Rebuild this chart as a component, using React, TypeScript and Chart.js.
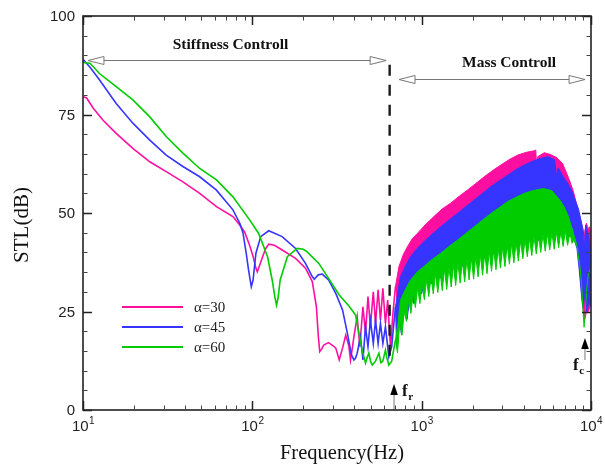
import React, { useEffect, useRef } from "react";
import { Chart, registerables } from "chart.js";

Chart.register(...registerables);

// ---------- axis ticks ----------
const xMajorTicks = [10, 100, 1000, 10000];
const xTickExponents = ["1", "2", "3", "4"];
const xMinorTicks = [20, 30, 40, 50, 60, 70, 80, 90, 200, 300, 400, 500, 600, 700, 800, 900, 2000, 3000, 4000, 5000, 6000, 7000, 8000, 9000];
const yMajorTicks = [0, 25, 50, 75, 100];
const yTickLabels = ["0", "25", "50", "75", "100"];
const yMinorTicks = [5, 10, 15, 20, 30, 35, 40, 45, 55, 60, 65, 70, 80, 85, 90, 95];

// ---------- series labels ----------
const seriesLabels = ["\u03b1=30", "\u03b1=45", "\u03b1=60"];

// ---------- alpha = 30 (pink) ----------
const pinkLowF = [10, 10.5, 11.5, 13.1, 15.7, 19.7, 24.8, 31, 38.9, 48.9, 61.4, 76.8, 84, 90, 96, 101, 105, 107, 110, 115, 120, 125, 135, 150, 180, 206, 226, 239, 245, 250, 257, 264, 282, 300, 311, 326, 341, 356, 365, 372, 380, 389, 398, 416, 431, 450, 466, 482, 498, 518, 534, 553, 571, 590, 611, 630, 645, 655, 675, 700];
const pinkLowV = [79.5, 79.2, 76.6, 73.6, 70.2, 66.4, 63.0, 60.5, 57.9, 55.0, 51.6, 49.1, 47, 45.2, 42, 39, 36, 35.1, 36.5, 38.9, 41, 42.1, 41.8, 40.6, 38.5, 36.0, 32.6, 26.2, 19, 14.8, 15.5, 16.5, 17.1, 16.3, 15.7, 12.7, 15.7, 19, 17.5, 16.1, 12.7, 15.5, 18.6, 23.7, 16.1, 26.2, 19.5, 28.8, 21.1, 30, 22, 30.5, 22.8, 30.9, 22, 27.9, 20, 16.1, 24, 31.3];
const pinkTopF = [700, 734, 780, 823, 880, 943, 1050, 1181, 1320, 1483, 1660, 1861, 2090, 2340, 2630, 2940, 3300, 3690, 4150, 4630, 4720, 4760, 4850, 5300, 5800, 6300, 6800, 7360, 7870, 8240, 8630, 8900, 9050, 9200, 9400, 9600, 9800, 10000];
const pinkTopV = [31.3, 36.4, 39.5, 41.4, 43.5, 44.8, 47, 49.1, 51, 52.5, 54.2, 55.8, 57.5, 59.2, 60.8, 62.2, 63.6, 64.7, 65.4, 65.8, 66, 62.5, 64.3, 65.3, 64.8, 64, 62.5, 59, 55.5, 52, 47.3, 43, 40.5, 45.5, 47.4, 46, 46.5, 45];
const pinkBotF = [700, 734, 800, 900, 1000, 1300, 1700, 2200, 3000, 4000, 5000, 6000, 7000, 8000, 8540, 8800, 9000, 9130, 9300, 9500, 9700, 10000];
const pinkBotV = [31.3, 24, 26, 30, 33, 37, 40, 43, 46, 49, 51, 52, 50, 46, 40, 30, 25, 22.5, 24, 27, 25, 28];

// ---------- alpha = 45 (blue) ----------
const blueLowF = [10, 11, 12.5, 15.7, 19.7, 24.8, 31, 38.9, 48.9, 61.4, 76.8, 84.3, 88, 92, 95, 98.6, 101, 105, 112, 125, 150, 180, 206, 225, 232, 245, 259, 282, 311, 341, 364, 385, 398, 407, 416, 435, 450, 466, 482, 498, 518, 534, 553, 571, 590, 611, 640, 665, 700];
const blueLowV = [89, 87, 83.8, 77.8, 72.8, 68.5, 64.7, 61.8, 59.2, 55.8, 50.8, 47.4, 45, 39.8, 35.5, 31.3, 33, 39.8, 44, 45.5, 44, 41, 37.2, 34, 33.2, 34.3, 34.5, 33, 29.6, 25.4, 19.5, 14, 12.7, 13.2, 14.4, 18.6, 12.7, 21.1, 16.1, 22.8, 16.9, 22.8, 16.9, 22, 16.9, 21.1, 13.5, 16, 26.2];
const blueTopF = [700, 750, 800, 859, 940, 1030, 1150, 1295, 1450, 1626, 1820, 2041, 2290, 2565, 2880, 3220, 3600, 4045, 4550, 5080, 5600, 6100, 6250, 6400, 6900, 7300, 7710, 8440, 9010, 9150, 9300, 9500, 9700, 10000];
const blueTopV = [26.2, 33.8, 36.5, 38.9, 41, 42.7, 44.6, 46.5, 48.2, 49.9, 51.6, 53.3, 55, 56.7, 58.2, 59.6, 61, 62.2, 63.2, 63.9, 64.3, 63.5, 59.5, 61.5, 59, 57.5, 55.5, 51, 45.5, 41, 47, 45.5, 44, 40];
const blueBotF = [700, 712, 735, 760, 790, 820, 860, 900, 950, 1000, 1070, 1140, 1220, 1300, 1400, 1500, 1620, 1740, 1880, 2020, 2180, 2350, 2530, 2720, 2930, 3150, 3400, 3650, 3930, 4230, 4550, 4900, 5250, 5650, 6050, 6500, 6950, 7450, 7800, 8000, 8260, 8500, 8750, 8930, 9100, 9300, 9500, 9700, 10000];
const blueBotV = [26.2, 16, 24, 19, 27, 23, 30, 27, 32, 29.5, 36, 32, 37.5, 33.5, 39, 35, 40, 36.5, 41, 37.5, 42, 38.5, 43, 39.5, 44, 40.5, 45, 41.5, 46, 42.2, 46.5, 43, 47, 43.5, 47.5, 44, 47.5, 44, 46.5, 43, 41, 36, 30, 26, 30, 26, 24.6, 28, 26];

// ---------- alpha = 60 (green) ----------
const greenLowF = [10, 11, 12.5, 15.7, 19.7, 24.8, 31, 38.9, 48.9, 61.4, 76.8, 96.6, 109, 123, 131, 136, 139, 142, 146, 161, 184, 200, 210, 247, 282, 326, 372, 407, 426, 445, 466, 478, 488, 500, 511, 534, 559, 575, 590, 611, 625, 640, 665, 700];
const greenLowV = [88.2, 88, 85.4, 82.1, 78.7, 74.4, 69.4, 65.2, 61.3, 58.4, 54.1, 48.2, 44.8, 38.9, 33, 28.5, 26.6, 28.5, 33, 38.9, 41, 40.8, 40.2, 37.2, 33.4, 29.2, 26.4, 24.1, 19.5, 15.2, 11.9, 13.5, 14.4, 12.2, 11.4, 12.4, 14.4, 12, 12.4, 15.2, 13, 11.4, 12.4, 17.8];
const greenTopF = [700, 720, 750, 800, 859, 940, 1030, 1150, 1295, 1450, 1626, 1820, 2041, 2290, 2565, 2880, 3220, 3600, 4045, 4550, 5240, 5860, 6600, 7000, 7400, 7870, 8050, 8240, 8400, 8600, 8800, 8950, 9100, 9250, 9450, 9650, 10000];
const greenTopV = [17.8, 21, 27.9, 30.5, 33, 35, 36.4, 38.2, 39.8, 41.5, 43.1, 44.8, 46.5, 48.2, 49.9, 51.4, 52.9, 54, 55, 55.7, 56.2, 55.7, 53.1, 51.3, 48.8, 44.8, 43.5, 41.9, 39.5, 36.5, 32, 26, 21, 25, 31, 34.7, 36];
const greenBotF = [700, 720, 742, 765, 789, 813, 838, 864, 891, 918, 947, 976, 1006, 1037, 1069, 1102, 1136, 1171, 1207, 1245, 1284, 1323, 1364, 1406, 1450, 1494, 1540, 1588, 1637, 1688, 1740, 1794, 1850, 1906, 1965, 2026, 2088, 2153, 2220, 2288, 2359, 2432, 2507, 2585, 2665, 2747, 2832, 2919, 3009, 3102, 3198, 3297, 3399, 3504, 3612, 3724, 3839, 3958, 4080, 4206, 4336, 4470, 4608, 4751, 4898, 5049, 5205, 5366, 5532, 5703, 5879, 6061, 6248, 6441, 6640, 6845, 7057, 7275, 7500, 7731, 7900, 8240];
const greenBotV = [17.8, 14.5, 22, 19, 25, 22.5, 28, 24.5, 29.5, 26, 31, 27, 32, 28, 33, 28.8, 33.8, 29.5, 34.5, 29.8, 35, 30.3, 35.8, 30.6, 36.2, 31.2, 36.8, 31.6, 37.3, 32.2, 37.8, 32.5, 38.2, 33, 38.6, 33.2, 39, 33.8, 39.4, 34.2, 39.8, 34.6, 40.2, 35.2, 40.6, 35.6, 41, 36, 41.4, 36.4, 41.8, 37, 42.2, 37.4, 42.6, 37.8, 43, 38.4, 43.3, 38.9, 43.6, 39.2, 44, 39.6, 44.3, 40, 44.5, 40.3, 44.8, 40.6, 45, 40.8, 45.2, 41.2, 45.4, 41.5, 45.4, 41.8, 45, 42.3, 43, 41.9];

// ---------- annotations (data coordinates) ----------
const dashLineF = 647;
const dashLineV = [12.7, 87.6];
const stiffArrowF = [10.7, 617];
const stiffArrowV = 88.8;
const stiffTextF = 74.3;
const stiffTextV = 92.6;
const massArrowF = [735, 9225];
const massArrowV = 84.0;
const massTextF = 3280;
const massTextV = 88.1;
const frArrowF = 687;
const frArrowV = [0, 6.6];
const fcArrowF = 9216;
const fcArrowV = [12.7, 18.3];

const PINK = "#ff0fa0";
const BLUE = "#3535ff";
const GREEN = "#00cc00";
const COLORS = [PINK, BLUE, GREEN];

const SANS = "'Liberation Sans', Arial, Helvetica, sans-serif";
const SERIF = "'Liberation Serif', 'Times New Roman', Times, serif";

function pts(f: number[], v: number[]) {
  return f.map((x, i) => ({ x, y: v[i] }));
}

function line(label: string, f: number[], v: number[], color: string, order: number, width: number, fill: any = false) {
  return {
    label,
    data: pts(f, v),
    borderColor: color,
    backgroundColor: color,
    borderWidth: width,
    pointRadius: 0,
    tension: 0,
    fill,
    order,
  };
}

function hollowHead(ctx: CanvasRenderingContext2D, tx: number, ty: number, dir: number) {
  const len = 16;
  const hw = 4;
  ctx.beginPath();
  ctx.moveTo(tx, ty);
  ctx.lineTo(tx - dir * len, ty - hw);
  ctx.lineTo(tx - dir * len, ty + hw);
  ctx.closePath();
  ctx.fillStyle = "#ffffff";
  ctx.fill();
  ctx.stroke();
}

function solidArrow(ctx: CanvasRenderingContext2D, ax: number, tipY: number, bottomY: number) {
  ctx.strokeStyle = "#777";
  ctx.lineWidth = 1;
  ctx.beginPath();
  ctx.moveTo(ax, tipY + 9);
  ctx.lineTo(ax, bottomY);
  ctx.stroke();
  ctx.fillStyle = "#000";
  ctx.beginPath();
  ctx.moveTo(ax, tipY);
  ctx.lineTo(ax - 3.8, tipY + 11);
  ctx.lineTo(ax + 3.8, tipY + 11);
  ctx.closePath();
  ctx.fill();
}

function subText(ctx: CanvasRenderingContext2D, main: string, sub: string, x: number, baseY: number) {
  ctx.fillStyle = "#111";
  ctx.textAlign = "left";
  ctx.textBaseline = "alphabetic";
  ctx.font = `bold 17px ${SERIF}`;
  ctx.fillText(main, x, baseY);
  const w = ctx.measureText(main).width;
  ctx.font = `bold 11px ${SERIF}`;
  ctx.fillText(sub, x + w + 0.5, baseY + 4);
}

const decor = {
  id: "decor",
  afterDatasetsDraw(chart: any) {
    const { ctx, chartArea: a, scales } = chart;
    const x = scales.x;
    const y = scales.y;
    ctx.save();

    // dashed vertical line
    ctx.strokeStyle = "#1a1a1a";
    ctx.lineWidth = 2.4;
    ctx.setLineDash([11, 9]);
    ctx.beginPath();
    const dx = x.getPixelForValue(dashLineF);
    ctx.moveTo(dx, y.getPixelForValue(dashLineV[1]));
    ctx.lineTo(dx, y.getPixelForValue(dashLineV[0]));
    ctx.stroke();
    ctx.setLineDash([]);

    // region arrows
    ctx.strokeStyle = "#777";
    ctx.lineWidth = 1;
    const drawSpan = (fs: number[], v: number) => {
      const x1 = x.getPixelForValue(fs[0]);
      const x2 = x.getPixelForValue(fs[1]);
      const yy = Math.round(y.getPixelForValue(v)) + 0.5;
      ctx.beginPath();
      ctx.moveTo(x1 + 15, yy);
      ctx.lineTo(x2 - 15, yy);
      ctx.stroke();
      hollowHead(ctx, x1, yy, -1);
      hollowHead(ctx, x2, yy, 1);
    };
    drawSpan(stiffArrowF, stiffArrowV);
    drawSpan(massArrowF, massArrowV);

    ctx.fillStyle = "#111";
    ctx.font = `bold 15.5px ${SERIF}`;
    ctx.textAlign = "center";
    ctx.textBaseline = "middle";
    ctx.fillText("Stiffness Controll", x.getPixelForValue(stiffTextF), y.getPixelForValue(stiffTextV));
    ctx.fillText("Mass Controll", x.getPixelForValue(massTextF), y.getPixelForValue(massTextV));

    // f_r and f_c
    const frx = x.getPixelForValue(frArrowF);
    solidArrow(ctx, frx, y.getPixelForValue(frArrowV[1]), y.getPixelForValue(frArrowV[0]));
    subText(ctx, "f", "r", frx + 8, y.getPixelForValue(frArrowV[1]) + 12);
    const fcx = x.getPixelForValue(fcArrowF);
    solidArrow(ctx, fcx, y.getPixelForValue(fcArrowV[1]), y.getPixelForValue(fcArrowV[0]));
    subText(ctx, "f", "c", fcx - 12, y.getPixelForValue(fcArrowV[1]) + 32);

    // legend
    const lx1 = a.left + 39;
    const lx2 = a.left + 100;
    const ly0 = a.top + 291;
    for (let i = 0; i < seriesLabels.length; i++) {
      const ly = ly0 + i * 20;
      ctx.strokeStyle = COLORS[i];
      ctx.lineWidth = 2;
      ctx.beginPath();
      ctx.moveTo(lx1, ly);
      ctx.lineTo(lx2, ly);
      ctx.stroke();
      ctx.fillStyle = "#222";
      ctx.font = `15px ${SERIF}`;
      ctx.textAlign = "left";
      ctx.textBaseline = "middle";
      ctx.fillText(seriesLabels[i], lx2 + 11, ly + 1);
    }

    // frame
    ctx.strokeStyle = "#222";
    ctx.lineWidth = 1.6;
    ctx.strokeRect(a.left, a.top, a.right - a.left, a.bottom - a.top);

    // ticks
    const major = 9;
    const minor = 4.5;
    ctx.lineWidth = 1.5;
    ctx.beginPath();
    for (const t of xMajorTicks) {
      const px = Math.round(x.getPixelForValue(t)) + 0.5;
      ctx.moveTo(px, a.bottom); ctx.lineTo(px, a.bottom - major);
      ctx.moveTo(px, a.top); ctx.lineTo(px, a.top + major);
    }
    for (const t of yMajorTicks) {
      const py = Math.round(y.getPixelForValue(t)) + 0.5;
      ctx.moveTo(a.left, py); ctx.lineTo(a.left + major, py);
      ctx.moveTo(a.right, py); ctx.lineTo(a.right - major, py);
    }
    ctx.stroke();
    ctx.lineWidth = 1;
    ctx.strokeStyle = "#444";
    ctx.beginPath();
    for (const t of xMinorTicks) {
      const px = Math.round(x.getPixelForValue(t)) + 0.5;
      ctx.moveTo(px, a.bottom); ctx.lineTo(px, a.bottom - minor);
      ctx.moveTo(px, a.top); ctx.lineTo(px, a.top + minor);
    }
    for (const t of yMinorTicks) {
      const py = Math.round(y.getPixelForValue(t)) + 0.5;
      ctx.moveTo(a.left, py); ctx.lineTo(a.left + minor, py);
      ctx.moveTo(a.right, py); ctx.lineTo(a.right - minor, py);
    }
    ctx.stroke();

    // y tick labels
    ctx.fillStyle = "#222";
    ctx.font = `15px ${SANS}`;
    ctx.textAlign = "right";
    ctx.textBaseline = "middle";
    yMajorTicks.forEach((t, i) => {
      ctx.fillText(yTickLabels[i], a.left - 8, y.getPixelForValue(t) + 1);
    });

    // x tick labels 10^n
    ctx.textBaseline = "alphabetic";
    ctx.textAlign = "left";
    xMajorTicks.forEach((t, i) => {
      const px = x.getPixelForValue(t);
      ctx.font = `15px ${SANS}`;
      const wb = ctx.measureText("10").width;
      ctx.font = `10px ${SANS}`;
      const we = ctx.measureText(xTickExponents[i]).width;
      const start = px - (wb + we) / 2;
      ctx.font = `15px ${SANS}`;
      ctx.fillText("10", start, a.bottom + 21);
      ctx.font = `10px ${SANS}`;
      ctx.fillText(xTickExponents[i], start + wb + 0.5, a.bottom + 13.5);
    });

    // axis titles
    ctx.fillStyle = "#111";
    ctx.font = `20.5px ${SERIF}`;
    ctx.textAlign = "center";
    ctx.textBaseline = "alphabetic";
    ctx.fillText("Frequency(Hz)", (a.left + a.right) / 2 + 5, a.bottom + 49);

    ctx.save();
    ctx.translate(a.left - 61, (a.top + a.bottom) / 2 + 12);
    ctx.rotate(-Math.PI / 2);
    ctx.font = `21px ${SERIF}`;
    ctx.textAlign = "center";
    ctx.textBaseline = "middle";
    ctx.fillText("STL(dB)", 0, 0);
    ctx.restore();

    ctx.restore();
  },
};

export default function App() {
  const ref = useRef<HTMLCanvasElement>(null);
  useEffect(() => {
    const datasets = [
      line(seriesLabels[0], pinkLowF, pinkLowV, PINK, 9, 1.6),
      line(seriesLabels[0] + " top", pinkTopF, pinkTopV, PINK, 8, 1),
      line(seriesLabels[0] + " bottom", pinkBotF, pinkBotV, PINK, 7, 1, "-1"),
      line(seriesLabels[1], blueLowF, blueLowV, BLUE, 6, 1.6),
      line(seriesLabels[1] + " top", blueTopF, blueTopV, BLUE, 5, 1),
      line(seriesLabels[1] + " bottom", blueBotF, blueBotV, BLUE, 4, 1, "-1"),
      line(seriesLabels[2], greenLowF, greenLowV, GREEN, 3, 1.6),
      line(seriesLabels[2] + " top", greenTopF, greenTopV, GREEN, 2, 1),
      line(seriesLabels[2] + " bottom", greenBotF, greenBotV, GREEN, 1, 1, "-1"),
    ];
    const chart = new Chart(ref.current as HTMLCanvasElement, {
      type: "line",
      data: { datasets } as any,
      options: {
        animation: false,
        responsive: true,
        maintainAspectRatio: false,
        events: [],
        layout: { padding: { left: 83, right: 14, top: 16, bottom: 54 } },
        scales: {
          x: { type: "logarithmic", min: 10, max: 10000, display: false },
          y: { type: "linear", min: 0, max: 100, display: false },
        },
        plugins: {
          legend: { display: false },
          tooltip: { enabled: false },
        },
      } as any,
      plugins: [decor],
    });
    return () => chart.destroy();
  }, []);
  return (
    <div style={{ position: "fixed", left: 0, top: 0, width: 605, height: 464, background: "#fff" }}>
      <canvas ref={ref} />
    </div>
  );
}
